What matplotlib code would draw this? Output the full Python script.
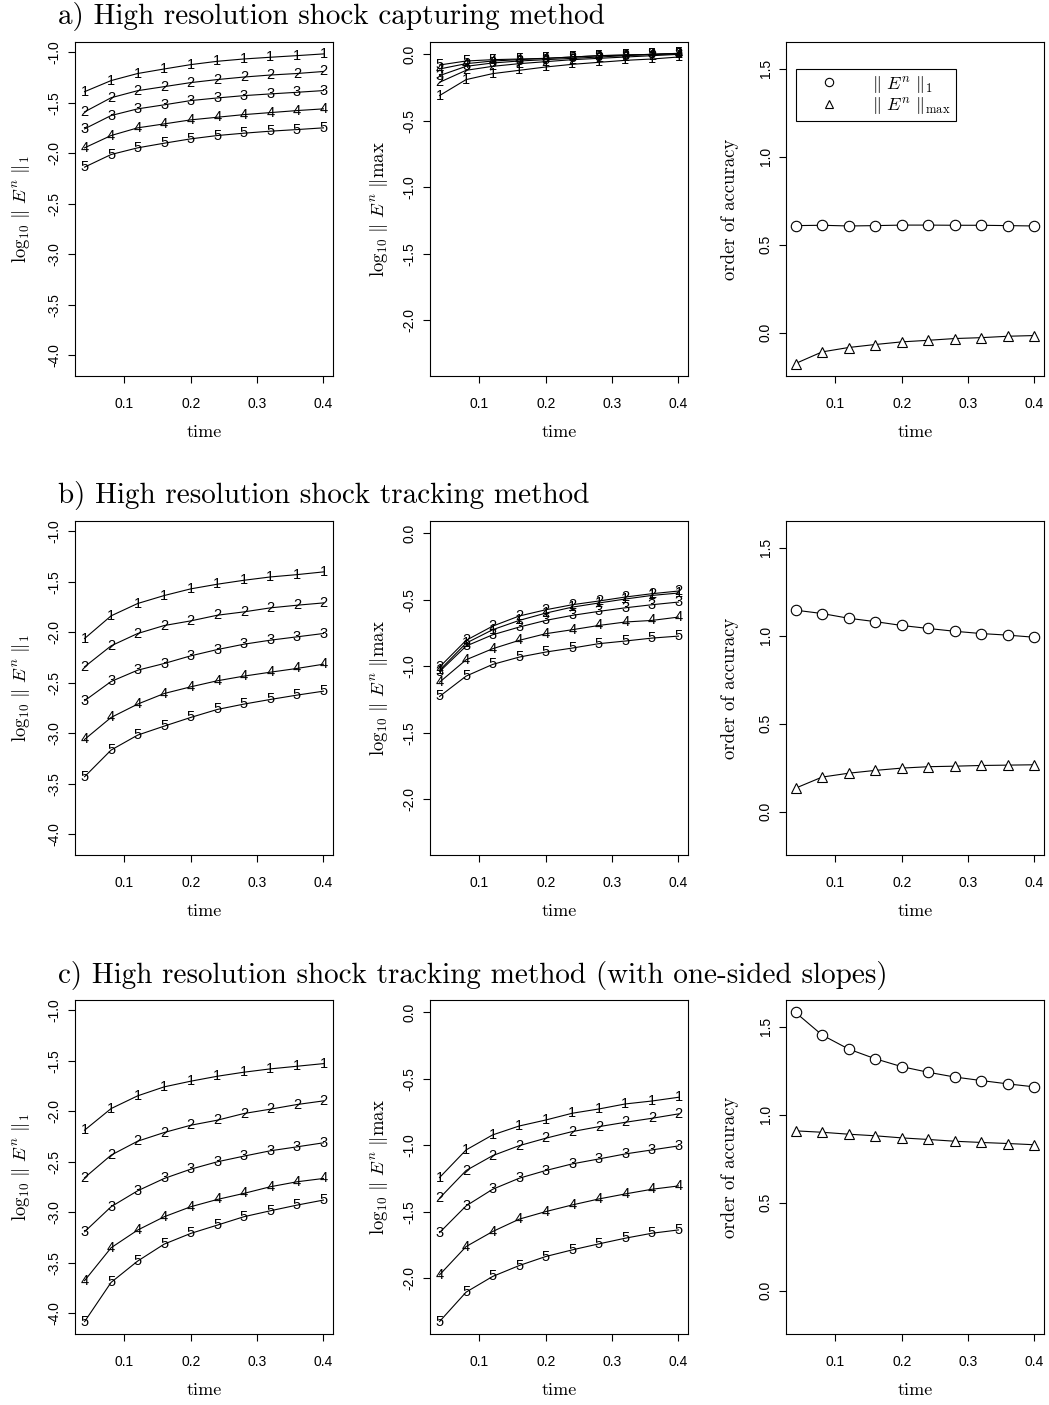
import matplotlib
matplotlib.use("Agg")
import matplotlib.pyplot as plt
from matplotlib.lines import Line2D

plt.rcParams['mathtext.fontset'] = 'cm'
plt.rcParams['axes.unicode_minus'] = False
plt.rcParams['font.family'] = ['Liberation Sans', 'DejaVu Sans']

# time levels
time = [0.04, 0.08, 0.12, 0.16, 0.20, 0.24, 0.28, 0.32, 0.36, 0.40]

# a) shock capturing: log10 L1 error, grids 1..5
cap_l1 = [
    [-1.39, -1.28, -1.21, -1.165, -1.122, -1.089, -1.066, -1.049, -1.033, -1.016],
    [-1.59, -1.45, -1.38, -1.34, -1.30, -1.27, -1.245, -1.225, -1.21, -1.19],
    [-1.758, -1.626, -1.56, -1.52, -1.478, -1.452, -1.429, -1.412, -1.396, -1.379],
    [-1.946, -1.824, -1.748, -1.709, -1.669, -1.643, -1.617, -1.597, -1.577, -1.56],
    [-2.137, -2.012, -1.946, -1.90, -1.857, -1.824, -1.801, -1.781, -1.765, -1.748],
]
cap_max = [
    [-0.31, -0.19, -0.145, -0.12, -0.095, -0.075, -0.06, -0.045, -0.035, -0.02],
    [-0.21, -0.12, -0.09, -0.07, -0.055, -0.04, -0.03, -0.02, -0.01, 0.0],
    [-0.16, -0.09, -0.065, -0.05, -0.04, -0.03, -0.02, -0.01, 0.0, 0.005],
    [-0.11, -0.07, -0.05, -0.04, -0.03, -0.02, -0.01, -0.005, 0.0, 0.005],
    [-0.08, -0.05, -0.04, -0.035, -0.03, -0.02, -0.01, -0.005, 0.0, 0.008],
]
cap_ord1 = [0.608, 0.61, 0.606, 0.608, 0.611, 0.611, 0.61, 0.61, 0.608, 0.606]
cap_ordmax = [-0.176, -0.11, -0.085, -0.068, -0.053, -0.044, -0.034, -0.029, -0.021, -0.017]

# b) shock tracking
trk_l1 = [
    [-2.062, -1.837, -1.715, -1.636, -1.570, -1.524, -1.485, -1.452, -1.429, -1.402],
    [-2.342, -2.134, -2.012, -1.933, -1.887, -1.831, -1.798, -1.758, -1.732, -1.709],
    [-2.678, -2.487, -2.375, -2.309, -2.233, -2.171, -2.118, -2.078, -2.045, -2.012],
    [-3.061, -2.843, -2.711, -2.606, -2.54, -2.48, -2.434, -2.395, -2.358, -2.316],
    [-3.43, -3.166, -3.018, -2.929, -2.843, -2.764, -2.711, -2.665, -2.622, -2.583],
]
trk_max = [
    [-1.03, -0.826, -0.725, -0.655, -0.60, -0.555, -0.524, -0.494, -0.467, -0.449],
    [-1.006, -0.805, -0.698, -0.622, -0.575, -0.537, -0.509, -0.479, -0.454, -0.434],
    [-1.04, -0.848, -0.763, -0.705, -0.655, -0.617, -0.587, -0.56, -0.537, -0.517],
    [-1.12, -0.951, -0.868, -0.805, -0.755, -0.725, -0.693, -0.667, -0.655, -0.63],
    [-1.227, -1.074, -0.986, -0.931, -0.893, -0.863, -0.83, -0.81, -0.788, -0.773],
]
trk_ord1 = [1.145, 1.126, 1.099, 1.080, 1.058, 1.041, 1.025, 1.012, 1.003, 0.991]
trk_ordmax = [0.133, 0.196, 0.218, 0.234, 0.247, 0.255, 0.258, 0.262, 0.264, 0.266]

# c) shock tracking with one-sided slopes
one_l1 = [
    [-2.187, -1.973, -1.847, -1.758, -1.702, -1.653, -1.613, -1.580, -1.554, -1.528],
    [-2.658, -2.434, -2.296, -2.21, -2.138, -2.088, -2.022, -1.979, -1.933, -1.897],
    [-3.193, -2.945, -2.787, -2.665, -2.573, -2.50, -2.444, -2.391, -2.352, -2.312],
    [-3.677, -3.351, -3.176, -3.044, -2.945, -2.873, -2.813, -2.747, -2.698, -2.665],
    [-4.083, -3.694, -3.483, -3.315, -3.209, -3.127, -3.044, -2.985, -2.929, -2.879],
]
one_max = [
    [-1.243, -1.035, -0.922, -0.855, -0.81, -0.759, -0.727, -0.689, -0.667, -0.639],
    [-1.398, -1.19, -1.078, -1.003, -0.947, -0.897, -0.86, -0.827, -0.797, -0.764],
    [-1.657, -1.456, -1.331, -1.248, -1.19, -1.14, -1.103, -1.065, -1.035, -1.005],
    [-1.975, -1.762, -1.649, -1.556, -1.499, -1.449, -1.404, -1.366, -1.331, -1.306],
    [-2.326, -2.105, -1.987, -1.905, -1.837, -1.787, -1.742, -1.699, -1.662, -1.637],
]
one_ord1 = [1.581, 1.453, 1.373, 1.318, 1.273, 1.241, 1.214, 1.194, 1.175, 1.158]
one_ordmax = [0.908, 0.900, 0.889, 0.880, 0.868, 0.859, 0.849, 0.842, 0.836, 0.829]

titles = ["a) High resolution shock capturing method",
          "b) High resolution shock tracking method",
          "c) High resolution shock tracking method (with one-sided slopes)"]

rows = [(cap_l1, cap_max, cap_ord1, cap_ordmax),
        (trk_l1, trk_max, trk_ord1, trk_ordmax),
        (one_l1, one_max, one_ord1, one_ordmax)]

l1_ticks = [-4.0, -3.5, -3.0, -2.5, -2.0, -1.5, -1.0]
max_ticks = [-2.0, -1.5, -1.0, -0.5, 0.0]
ord_ticks = [0.0, 0.5, 1.0, 1.5]
x_ticks = [0.1, 0.2, 0.3, 0.4]

W, H = 1049, 1405
fig = plt.figure(figsize=(W / 100, H / 100), dpi=100)

col_left = [75, 430, 786]
row_top = [42, 521, 1000]
title_base = [24, 503, 983]
pw, ph = 258, 334

serif = 'cmr10'


def style_axis(ax, yticks, ylim, ylabel, ylab_x):
    ax.set_xlim(0.0256, 0.4144)
    ax.set_ylim(*ylim)
    ax.set_xticks(x_ticks)
    ax.set_xticklabels(["%.1f" % t for t in x_ticks])
    ax.set_yticks(yticks)
    ax.set_yticklabels(["%.1f" % t for t in yticks])
    ax.tick_params(axis='both', direction='out', length=5, width=0.8,
                   labelsize=10)
    ax.tick_params(axis='x', pad=10)
    ax.tick_params(axis='y', pad=4.5)
    for lab in ax.get_yticklabels():
        lab.set_rotation(90)
        lab.set_va('center')
    for s in ax.spines.values():
        s.set_linewidth(0.8)
    ax.set_xlabel("time", fontsize=13, family=serif)
    ax.xaxis.set_label_coords(0.5, -0.145)
    ax.set_ylabel(ylabel, fontsize=13.5, family=serif)
    ax.yaxis.set_label_coords(ylab_x, 0.5)


for r, (l1, mx, o1, omax) in enumerate(rows):
    fig.text(58 / W, 1 - title_base[r] / H, titles[r], family=serif,
             fontsize=21, va='baseline', ha='left')
    axes = []
    for c in range(3):
        ax = fig.add_axes([col_left[c] / W, 1 - (row_top[r] + ph) / H, pw / W, ph / H])
        axes.append(ax)

    for ax, data in ((axes[0], l1), (axes[1], mx)):
        for k, series in enumerate(data):
            ax.plot(time, series, color='black', lw=0.8, zorder=2)
            for t, v in zip(time, series):
                ax.text(t, v, str(k + 1), fontsize=10.5, ha='center', va='center', zorder=3)

    style_axis(axes[0], l1_ticks, (-4.205, -0.898),
               r'$\mathrm{log}_{10}\ \Vert\ E^n\ \Vert_1$', -0.167)
    style_axis(axes[1], max_ticks, (-2.42, 0.093),
               r'$\mathrm{log}_{10}\ \Vert\ E^n\ \Vert\mathrm{max}$', -0.155)

    ax = axes[2]
    ax.plot(time, o1, color='black', lw=0.8, marker='o', ms=7.5,
            mfc='white', mec='black', mew=0.8)
    ax.plot(time, omax, color='black', lw=0.8, marker='^', ms=7,
            mfc='white', mec='black', mew=0.8)
    style_axis(ax, ord_ticks, (-0.247, 1.652), "order of accuracy", -0.182)

    if r == 0:
        handles = [Line2D([], [], ls='none', marker='o', ms=6, mfc='white', mec='black', mew=0.8),
                   Line2D([], [], ls='none', marker='^', ms=6, mfc='white', mec='black', mew=0.8)]
        leg = ax.legend(handles, [r'$\Vert\ E^n\ \Vert_1$', r'$\Vert\ E^n\ \Vert_{\mathrm{max}}$'],
                        loc='upper left', bbox_to_anchor=(0.0376, 0.919),
                        fontsize=13, fancybox=False, framealpha=1, edgecolor='black',
                        borderpad=0.25, labelspacing=0.05, handletextpad=0.8,
                        handlelength=3.2, borderaxespad=0)
        leg.get_frame().set_linewidth(0.8)

fig.savefig("out.png", dpi=100)
